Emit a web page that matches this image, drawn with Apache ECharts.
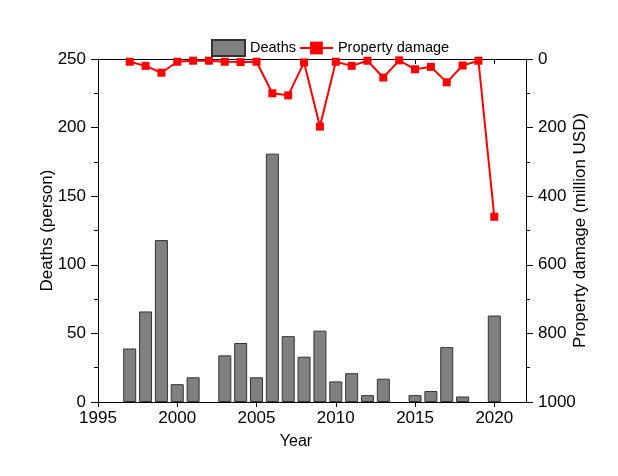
<!DOCTYPE html>
<html>
<head>
<meta charset="utf-8">
<script src="https://cdn.jsdelivr.net/npm/echarts@6/dist/echarts.min.js"></script>
<style>
html,body{margin:0;padding:0;background:#fff;}
#chart{width:618px;height:476px;}
</style>
</head>
<body>
<div id="chart"></div>
<script>
var years = [1997,1998,1999,2000,2001,2002,2003,2004,2005,2006,2007,2008,2009,2010,2011,2012,2013,2014,2015,2016,2017,2018,2019,2020];
var deaths = [39,66,118,13,18,null,34,43,18,181,48,33,52,15,21,5,17,null,5,8,40,4,null,63];
var damage = [8,20,40,8,5,5,8,9,8,100,106,10,197,8,20,5,54,4,30,23,68,19,5,460];

var font = 'Liberation Sans, Arial, sans-serif';
var barData = [], lineData = [];
for (var i = 0; i < years.length; i++) {
  if (deaths[i] !== null) barData.push([years[i], deaths[i]]);
  lineData.push([years[i], damage[i]]);
}
var plain = function (v) { return String(v); };
var axisLineStyle = {color:'#000', width:1};
var chart = echarts.init(document.getElementById('chart'));
chart.setOption({
  animation:false,
  backgroundColor:'#fff',
  textStyle:{fontFamily:font},
  legend:{
    left:211, top:39, padding:0,
    itemWidth:33, itemHeight:16, itemGap:3,
    textStyle:{fontFamily:font, fontSize:14.5, color:'#000'},
    data:[{name:'Deaths', icon:'rect'}, 'Property damage']
  },
  grid:{left:98, right:92, top:59, bottom:74, containLabel:false},
  xAxis:[{
    type:'value', min:1995, max:2022, interval:5, position:'bottom',
    name:'Year', nameLocation:'middle', nameGap:32, nameMoveOverlap:false,
    nameTextStyle:{fontFamily:font, fontSize:16, color:'#000', padding:[0,32,0,0]},
    axisLine:{show:true, lineStyle:axisLineStyle},
    axisTick:{show:true, inside:false, length:5, lineStyle:axisLineStyle},
    axisLabel:{fontFamily:font, fontSize:17, color:'#000', margin:8,
      showMaxLabel:false, formatter:plain},
    splitLine:{show:false}
  },{
    type:'value', min:1995, max:2022, interval:5, position:'top',
    axisLine:{show:true, lineStyle:axisLineStyle},
    axisTick:{show:true, inside:true, length:5, lineStyle:axisLineStyle},
    axisLabel:{show:false},
    splitLine:{show:false}
  }],
  yAxis:[{
    type:'value', min:0, max:250, interval:50, position:'left',
    name:'Deaths (person)', nameLocation:'middle', nameGap:42, nameRotate:90, nameMoveOverlap:false,
    nameTextStyle:{fontFamily:font, fontSize:17, color:'#000'},
    axisLine:{show:true, lineStyle:axisLineStyle},
    axisTick:{show:true, inside:false, length:7, lineStyle:axisLineStyle},
    minorTick:{show:true, splitNumber:2, length:4, lineStyle:axisLineStyle},
    axisLabel:{fontFamily:font, fontSize:17, color:'#000', margin:12, formatter:plain},
    splitLine:{show:false}
  },{
    type:'value', min:0, max:1000, interval:200, position:'right', inverse:true,
    name:'Property damage (million USD)', nameLocation:'middle', nameGap:46, nameRotate:90, nameMoveOverlap:false,
    nameTextStyle:{fontFamily:font, fontSize:17, color:'#000'},
    axisLine:{show:true, lineStyle:axisLineStyle},
    axisTick:{show:true, inside:false, length:7, lineStyle:axisLineStyle},
    minorTick:{show:true, splitNumber:2, length:4, lineStyle:axisLineStyle},
    axisLabel:{fontFamily:font, fontSize:17, color:'#000', margin:12, formatter:plain},
    splitLine:{show:false}
  }],
  series:[{
    name:'Deaths', type:'bar', xAxisIndex:0, yAxisIndex:0,
    barWidth:13,
    itemStyle:{color:'#808080', borderColor:'#333', borderWidth:1},
    data:barData
  },{
    name:'Property damage', type:'line', xAxisIndex:0, yAxisIndex:1,
    symbol:'rect', symbolSize:8,
    lineStyle:{color:'#ff0000', width:2},
    itemStyle:{color:'#ff0000'},
    data:lineData
  }]
});
</script>
</body>
</html>
